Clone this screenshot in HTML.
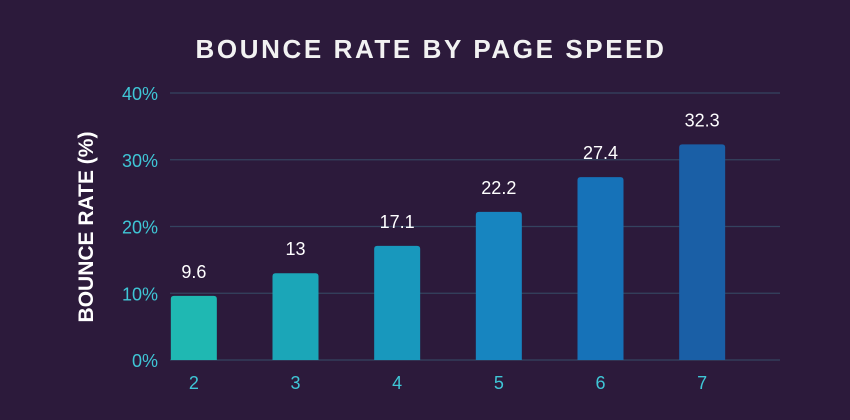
<!DOCTYPE html>
<html><head><meta charset="utf-8"><style>
body{margin:0;background:#2c1a3b;}
svg{display:block;font-family:"Liberation Sans",sans-serif;}
</style></head><body>
<svg width="850" height="420" viewBox="0 0 850 420">
<rect width="850" height="420" fill="#2c1a3b"/>
<text x="431" y="58" text-anchor="middle" fill="#f2f2f2" font-size="26" font-weight="bold" letter-spacing="2.6">BOUNCE RATE BY PAGE SPEED</text>
<text transform="translate(93,227) rotate(-90)" text-anchor="middle" fill="#ffffff" font-size="21" font-weight="bold">BOUNCE RATE (%)</text>
<g id="grid"></g><g id="bars"></g>
</svg>
<script>
const categories=["2","3","4","5","6","7"];
const values=[9.6,13,17.1,22.2,27.4,32.3];
const valueLabels=["9.6","13","17.1","22.2","27.4","32.3"];
const yTicks=[0,10,20,30,40];
const yTickLabels=["0%","10%","20%","30%","40%"];
const colors=["#1fb8b2","#1ba6b8","#1898bd","#1785c0","#1672b8","#1a5fa6"];
const NS="http://www.w3.org/2000/svg";
const x0=170,x1=780,y0=360,yTop=93;
const yScale=v=>y0-(v/40)*(y0-yTop);
const step=(x1-x0)/categories.length;
const xCenter=i=>x0+step*i+step/2-27;
const grid=document.getElementById('grid'),bars=document.getElementById('bars');
function mk(t,a){const e=document.createElementNS(NS,t);for(const k in a)e.setAttribute(k,a[k]);return e;}
yTicks.forEach((t,i)=>{
  const l=mk('line',{x1:x0,x2:x1,y1:yScale(t),y2:yScale(t),stroke:'#34435f','stroke-width':1.2});
  
  
  grid.appendChild(l);
  const tx=mk('text',{x:158,y:yScale(t)+7,'text-anchor':'end',fill:'#3fc6d6','font-size':18});
  tx.textContent=yTickLabels[i];
  
  
  grid.appendChild(tx);
});
const bw=46;
values.forEach((v,i)=>{
  const cx=xCenter(i);
  const y=yScale(v);
  const r=mk('path',{d:`M${cx-bw/2},${y0} V${y+3} Q${cx-bw/2},${y} ${cx-bw/2+3},${y} H${cx+bw/2-3} Q${cx+bw/2},${y} ${cx+bw/2},${y+3} V${y0} Z`,fill:colors[i]});
  
  
  bars.appendChild(r);
  const lb=mk('text',{x:cx,y:y-18,'text-anchor':'middle',fill:'#ffffff','font-size':18});
  lb.textContent=valueLabels[i];
  
  
  bars.appendChild(lb);
  const xl=mk('text',{x:cx,y:389,'text-anchor':'middle',fill:'#3fc6d6','font-size':18});
  xl.textContent=categories[i];
  
  
  bars.appendChild(xl);
});
</script>
</body></html>
